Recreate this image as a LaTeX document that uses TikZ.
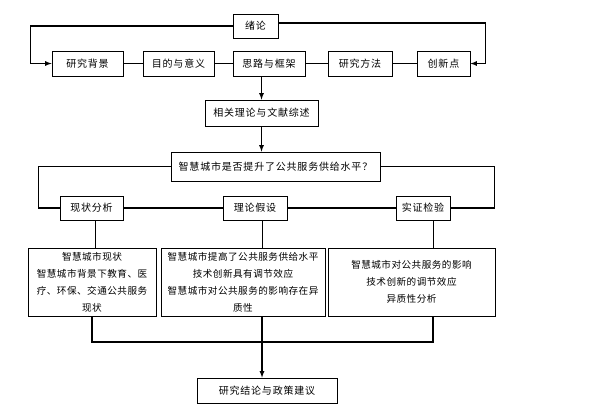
\documentclass[tikz,border=0pt]{standalone}
\usepackage{fontspec}
\usepackage{tikz}
\usetikzlibrary{shadows}
\newfontfamily\cjk[LetterSpace=8]{Noto Sans CJK SC}
\newfontfamily\cjkdense[LetterSpace=5]{Noto Sans CJK SC}

\tikzset{
  frame/.style={draw, line width=0.8pt, fill=white, font=\cjk\fontsize{10}{17}\selectfont,
    drop shadow={shadow xshift=1pt, shadow yshift=-1pt, opacity=1, fill=black}},
  bigframe/.style={frame, font=\cjkdense\fontsize{9.6}{17}\selectfont, align=center, inner sep=1pt, minimum height=68pt},
  link/.style={line width=1.2pt},
  thinlink/.style={line width=0.8pt}
}

\begin{document}
\begin{tikzpicture}[x=1pt, y=-1pt, >=latex]
\useasboundingbox (0,0) rectangle (604,408);
% header row
\node[frame, minimum width=45pt, minimum height=24pt] (xulun) at (255.5,26) {绪论};
\node[frame, minimum width=71pt, minimum height=25pt] (beijing) at (87.5,63.5) {研究背景};
\node[frame, minimum width=71pt, minimum height=25pt] (yiyi) at (178.5,63.5) {目的与意义};
\node[frame, minimum width=72pt, minimum height=25pt] (silu) at (269,63.5) {思路与框架};
\node[frame, minimum width=64pt, minimum height=25pt] (fangfa) at (360,63.5) {研究方法};
\node[frame, minimum width=53pt, minimum height=25pt] (chuangxin) at (443.5,63.5) {创新点};
\node[frame, minimum width=113pt, minimum height=26pt] (zongshu) at (261.5,113) {相关理论与文献综述};
\node[frame, minimum width=209pt, minimum height=29pt] (wenti) at (275.5,166.5) {智慧城市是否提升了公共服务供给水平？};
% three parts
\node[frame, minimum width=63pt, minimum height=24pt] (xianzhuang) at (91.5,208) {现状分析};
\node[frame, minimum width=64pt, minimum height=24pt] (jiashe) at (255,208) {理论假设};
\node[frame, minimum width=54pt, minimum height=24pt] (jianyan) at (423,208) {实证检验};
\node[bigframe, minimum width=128pt] (neirong1) at (92,282) {智慧城市现状\\智慧城市背景下教育、医\\疗、环保、交通公共服务\\现状};
\node[bigframe, minimum width=164pt] (neirong2) at (243,282) {智慧城市提高了公共服务供给水平\\技术创新具有调节效应\\智慧城市对公共服务的影响存在异\\质性};
\node[bigframe, minimum width=167pt] (neirong3) at (411.5,282) {智慧城市对公共服务的影响\\技术创新的调节效应\\异质性分析};
\node[frame, minimum width=140pt, minimum height=25pt] (jielun) at (267,390.5) {研究结论与政策建议};
\coordinate (huizong) at (262,342);

\draw[link, ->] (xulun.west) -| ([xshift=-21pt]beijing.west) -- (beijing.west);
\draw[link, ->] ([yshift=3pt]xulun.east) -| ([xshift=15pt]chuangxin.east) -- (chuangxin.east);
\draw[link] (beijing) -- (yiyi);
\draw[link] (yiyi) -- (silu);
\draw[link] (silu) -- (fangfa);
\draw[link] (fangfa) -- (chuangxin);
\draw[link, ->] (zongshu.north |- silu.south) -- (zongshu.north);
\draw[link, ->] (zongshu.south) -- (zongshu.south |- wenti.north);
\draw[link] (wenti.west) -| ([xshift=-21pt]xianzhuang.west) -- (xianzhuang.west);
\draw[link] (wenti.east) -| ([xshift=44pt]jianyan.east) -- (jianyan.east);
\draw[link] (xianzhuang) -- (jiashe);
\draw[link] (jiashe) -- (jianyan);
\draw[thinlink] ([xshift=4pt]xianzhuang.south) -- ([xshift=4pt]xianzhuang.south |- neirong1.north);
\draw[thinlink] (jiashe.south -| huizong) -- (neirong2.north -| huizong);
\draw[thinlink] ([xshift=10pt]jianyan.south) -- ([xshift=10pt]jianyan.south |- neirong3.north);
\draw[link] (neirong1.south) |- (huizong) -| ([xshift=21.5pt]neirong3.south);
\draw[link, ->] (neirong2.south -| huizong) -- (jielun.north -| huizong);
\end{tikzpicture}
\end{document}
